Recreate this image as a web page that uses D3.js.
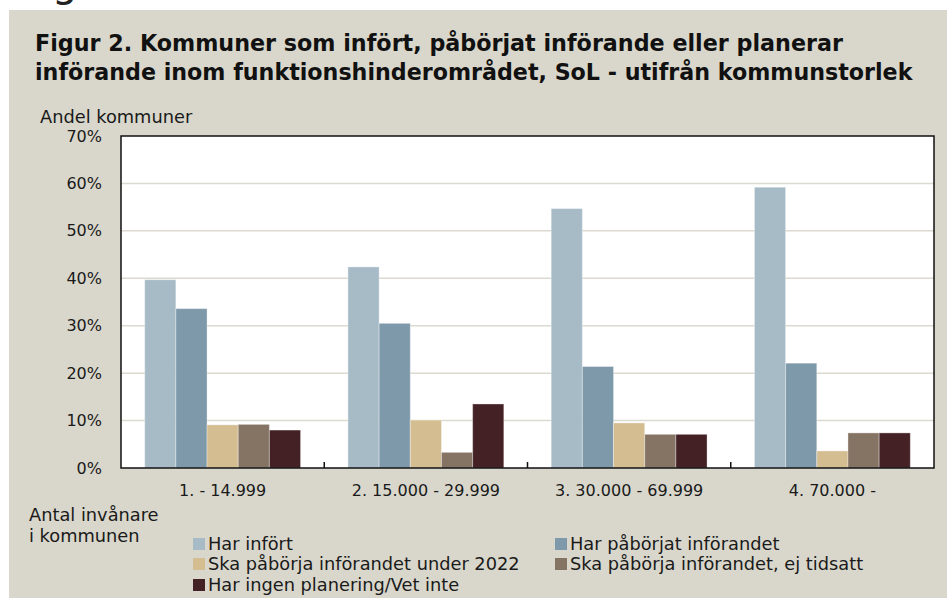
<!DOCTYPE html>
<html>
<head>
<meta charset="utf-8">
<script src="https://cdn.jsdelivr.net/npm/d3@7/dist/d3.min.js"></script>
<style>
  html, body { margin: 0; padding: 0; background: #fff; }
  svg { display: block; font-family: "DejaVu Sans", sans-serif; }
</style>
</head>
<body>
<div id="chart"></div>
<script>
// Chart data
const categories = ['1. - 14.999', '2. 15.000 - 29.999', '3. 30.000 - 69.999', '4. 70.000 -'];
const seriesNames = [
  'Har infört',
  'Har påbörjat införandet',
  'Ska påbörja införandet under 2022',
  'Ska påbörja införandet, ej tidsatt',
  'Har ingen planering/Vet inte'
];
const harInfort = [39.7, 42.4, 54.7, 59.2];
const harPaborjat = [33.6, 30.5, 21.4, 22.1];
const skaUnder2022 = [9.1, 10.1, 9.5, 3.6];
const skaEjTidsatt = [9.2, 3.3, 7.1, 7.4];
const ingenPlanering = [8.0, 13.5, 7.1, 7.4];
const yTicks = [0, 10, 20, 30, 40, 50, 60, 70];

const seriesValues = [harInfort, harPaborjat, skaUnder2022, skaEjTidsatt, ingenPlanering];
const colors = ['#a7bbc7', '#7d99aa', '#d3bd91', '#857463', '#442125'];

const W = 947, H = 598;
const plot = { left: 121, right: 934, top: 136, bottom: 468 };

const svg = d3.select('#chart').append('svg')
  .attr('width', W)
  .attr('height', H);

// Beige panel
svg.append('rect')
  .attr('x', 9).attr('y', 10)
  .attr('width', W - 9).attr('height', H - 10)
  .attr('fill', '#d9d7cb');

// leftover glyph from the page above (cut off, as in the reference)
svg.append('text')
  .attr('x', 52).attr('y', -4)
  .style('font-size', '40px')
  .style('fill', '#222')
  .text('g');

// Title
const title = svg.append('g').style('font-weight', 'bold').style('fill', '#111');
const titleLines = [
  { text: 'Figur 2. Kommuner som infört, påbörjat införande eller planerar', y: 51, w: 808 },
  { text: 'införande inom funktionshinderområdet, SoL - utifrån kommunstorlek', y: 80, w: 878 }
];
titleLines.forEach(l => {
  const t = title.append('text')
    .attr('x', 35).attr('y', l.y)
    .style('font-size', '22px')
    .text(l.text);
  const len = t.node().getComputedTextLength();
  t.style('font-size', (22 * l.w / len).toFixed(2) + 'px');
});

// Scales
const x0 = d3.scaleBand().domain(categories).range([plot.left, plot.right]).padding(0);
const x1 = d3.scaleBand().domain(seriesNames).range([0, x0.bandwidth()]).paddingInner(0).paddingOuter(0.76);
const y = d3.scaleLinear().domain([0, 70]).range([plot.bottom, plot.top]);

// Plot background
svg.append('rect')
  .attr('x', plot.left).attr('y', plot.top)
  .attr('width', plot.right - plot.left).attr('height', plot.bottom - plot.top)
  .attr('fill', '#fff');

// Gridlines
svg.append('g')
  .selectAll('line')
  .data(yTicks.filter(d => d > 0 && d < 70))
  .enter().append('line')
  .attr('x1', plot.left).attr('x2', plot.right)
  .attr('y1', d => y(d)).attr('y2', d => y(d))
  .attr('stroke', '#dcdad0')
  .attr('stroke-width', 1.5);

// Bars
const groups = svg.append('g')
  .selectAll('g')
  .data(categories)
  .enter().append('g')
  .attr('transform', d => `translate(${x0(d)},0)`);

groups.selectAll('rect')
  .data((c, ci) => seriesNames.map((s, si) => ({ s, si, v: seriesValues[si][ci] })))
  .enter().append('rect')
  .attr('x', d => x1(d.s))
  .attr('width', x1.bandwidth())
  .attr('y', d => y(d.v))
  .attr('height', d => y(0) - y(d.v))
  .attr('fill', d => colors[d.si])
  .attr('stroke', 'rgba(255,255,255,0.35)')
  .attr('stroke-width', 1);

// Plot frame
svg.append('rect')
  .attr('x', plot.left).attr('y', plot.top)
  .attr('width', plot.right - plot.left).attr('height', plot.bottom - plot.top)
  .attr('fill', 'none')
  .attr('stroke', '#111')
  .attr('stroke-width', 1.5);

// Y axis
const yAxis = svg.append('g')
  .attr('transform', `translate(${plot.left},0)`)
  .call(d3.axisLeft(y).tickValues(yTicks).tickSize(0).tickPadding(19).tickFormat(d => d + '%'));
yAxis.select('.domain').remove();
yAxis.selectAll('text')
  .style('font-family', '"DejaVu Sans", sans-serif')
  .style('font-size', '16px')
  .style('fill', '#1a1a1a');

// X axis: category labels
const xAxis = svg.append('g')
  .attr('transform', `translate(0,${plot.bottom})`)
  .call(d3.axisBottom(x0).tickSize(0).tickPadding(17));
xAxis.select('.domain').remove();
xAxis.selectAll('text')
  .style('font-family', '"DejaVu Sans", sans-serif')
  .style('font-size', '16px')
  .style('fill', '#1a1a1a');

// Small tick marks between the groups
svg.append('g')
  .selectAll('line')
  .data(categories.slice(1))
  .enter().append('line')
  .attr('x1', d => x0(d)).attr('x2', d => x0(d))
  .attr('y1', plot.bottom).attr('y2', plot.bottom - 6)
  .attr('stroke', '#111')
  .attr('stroke-width', 1.5);

// Axis titles
svg.append('text')
  .attr('x', 40).attr('y', 123)
  .style('font-size', '17.8px').style('fill', '#1a1a1a')
  .text('Andel kommuner');

svg.append('text')
  .attr('x', 29).attr('y', 521)
  .style('font-size', '17.8px').style('fill', '#1a1a1a')
  .text('Antal invånare');
svg.append('text')
  .attr('x', 29).attr('y', 542)
  .style('font-size', '17.8px').style('fill', '#1a1a1a')
  .text('i kommunen');

// Legend
const legendPos = [
  { x: 193, y: 550 }, { x: 555, y: 550 },
  { x: 193, y: 570 }, { x: 555, y: 570 },
  { x: 193, y: 591 }
];
const legend = svg.append('g')
  .selectAll('g')
  .data(seriesNames)
  .enter().append('g')
  .attr('transform', (d, i) => `translate(${legendPos[i].x},${legendPos[i].y})`);

legend.append('rect')
  .attr('x', 0).attr('y', -12)
  .attr('width', 12).attr('height', 12)
  .attr('fill', (d, i) => colors[i]);

legend.append('text')
  .attr('x', 15).attr('y', 0)
  .style('font-size', '17.8px').style('fill', '#1a1a1a')
  .text(d => d);
</script>
</body>
</html>
